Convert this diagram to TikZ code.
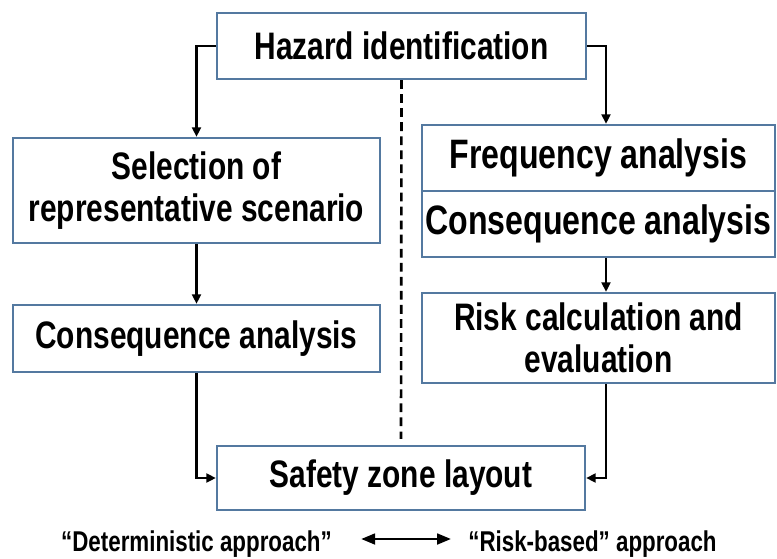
\documentclass[tikz,border=0pt]{standalone}
\usepackage{fontspec}
\setmainfont[FakeStretch=0.78]{Liberation Sans}
\usetikzlibrary{arrows.meta}
\definecolor{boxline}{RGB}{84,121,160}

\begin{document}
\begin{tikzpicture}[
	font=\bfseries\fontsize{21.8}{23.8}\selectfont,
	box/.style={draw=boxline, line width=1.2pt, fill=white, align=center, inner sep=0pt},
	arr/.style={-{Triangle[length=5.5pt,width=5pt]}, line width=1.5pt},
	]
	\useasboundingbox (0,0) rectangle (15.54,-11.18);
	% boxes
	\node[box, minimum width=7.38cm, minimum height=1.32cm] (hazard) at (8.03,-0.92) {Hazard identification};
	\node[box, minimum width=7.34cm, minimum height=2.10cm] (select) at (3.93,-3.81) {Selection of\\representative scenario};
	\node[box, minimum width=7.34cm, minimum height=1.34cm] (conseqL) at (3.93,-6.77) {Consequence analysis};
	\node[box, minimum width=7.06cm, minimum height=1.32cm, font=\bfseries\fontsize{23.4}{26}\selectfont] (freq) at (11.97,-3.16) {Frequency analysis};
	\node[box, minimum width=7.06cm, minimum height=1.32cm, font=\bfseries\fontsize{23.4}{26}\selectfont] (conseqR) at (11.97,-4.48) {Consequence analysis};
	\node[box, minimum width=7.06cm, minimum height=1.80cm] (risk) at (11.97,-6.76) {Risk calculation and\\evaluation};
	\node[box, minimum width=7.36cm, minimum height=1.28cm] (safety) at (8.02,-9.56) {Safety zone layout};
	% connectors
	\draw[arr] (hazard.west) -| (select.north);
	\draw[arr] (hazard.east) -| ([xshift=0.15cm]freq.north);
	\draw[arr] (select.south) -- (conseqL.north);
	\draw[arr] ([xshift=0.15cm]conseqR.south) -- ([xshift=0.15cm]risk.north);
	\draw[arr] (conseqL.south) |- (safety.west);
	\draw[arr] ([xshift=0.15cm]risk.south) |- (safety.east);
	\draw[line width=1.5pt, dash pattern=on 5pt off 3pt] (hazard.south) -- ([yshift=0.12cm]safety.north);
	% approaches
	\node[font=\bfseries\fontsize{16.3}{18}\selectfont] (det) at (3.93,-10.88) {“Deterministic approach”};
	\node[font=\bfseries\fontsize{16.3}{18}\selectfont] (rb) at (11.85,-10.88) {“Risk-based” approach};
	\draw[{Triangle[length=8pt,width=6pt]}-{Triangle[length=8pt,width=6pt]}, line width=1.7pt, shorten <=0.46cm, shorten >=0.22cm] ([yshift=0.1cm]det.east) -- ([yshift=0.1cm]rb.west);
\end{tikzpicture}
\end{document}
